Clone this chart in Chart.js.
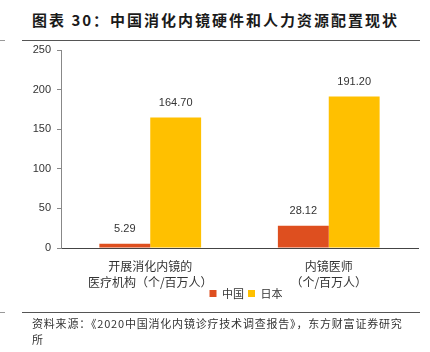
<!DOCTYPE html>
<html>
<head>
<meta charset="utf-8">
<script src="https://cdn.jsdelivr.net/npm/chart.js@4.4.0/dist/chart.umd.min.js"></script>
<style>
    body { margin: 0; background: #fff; }
    #wrap { position: relative; width: 430px; height: 352px; overflow: hidden; }
    #chart { position: absolute; left: 0; top: 0; }
    .title { position: absolute; left: 32px; top: 9px; font: bold 15px "Noto Sans CJK SC", sans-serif; letter-spacing: 2px; color: #1a1a1a; white-space: nowrap; }
    .rule { position: absolute; height: 1px; background: #555; }
    .source { position: absolute; left: 32px; top: 315px; font: 11px "Noto Sans CJK SC", sans-serif; letter-spacing: 0.8px; line-height: 16px; color: #333; white-space: nowrap; }
</style>
</head>
<body>
<div id="wrap">
    <div class="title">图表 30：中国消化内镜硬件和人力资源配置现状</div>
    <div class="rule" style="left:22px; top:40px; width:398px"></div>
    <div class="rule" style="left:0; top:40px; width:5px; background:#999"></div>
    <canvas id="chart" width="430" height="352"></canvas>
    <div class="rule" style="left:22px; top:312px; width:398px"></div>
    <div class="rule" style="left:0; top:312px; width:5px; background:#999"></div>
    <div class="source">资料来源：《2020中国消化内镜诊疗技术调查报告》，东方财富证券研究<br>所</div>
</div>
<script>
// données
const categories = [
    ["开展消化内镜的", "医疗机构（个/百万人）"],
    ["内镜医师", "（个/百万人）"],
]
const seriesNames = ["中国", "日本"]
const chinaValues = [5.29, 28.12]
const japanValues = [164.70, 191.20]
const yTicks = [0, 50, 100, 150, 200, 250]

const colors = { china: "#DE4F1F", japan: "#FFC000" }

// étiquettes de valeur au-dessus des barres
const valueLabels = {
    id: "valueLabels",
    afterDatasetsDraw(chart) {
        const ctx = chart.ctx
        ctx.save()
        ctx.font = "11px 'Liberation Sans', Arial, sans-serif"
        ctx.fillStyle = "#333"
        ctx.textAlign = "center"
        ctx.textBaseline = "middle"
        chart.data.datasets.forEach((ds, i) => {
            chart.getDatasetMeta(i).data.forEach((bar, j) => {
                ctx.fillText(ds.data[j].toFixed(2), bar.x, bar.y - 15)
            })
        })
        ctx.restore()
    },
}

// remonte la légende (et la décale à droite) sous la zone des étiquettes de l'axe x
const legendShift = {
    id: "legendShift",
    afterLayout(chart) {
        chart.legend.top -= 13
        chart.legend.bottom -= 13
        chart.legend.left += 37
        chart.legend.right += 37
    },
}

new Chart(document.getElementById("chart"), {
    type: "bar",
    data: {
        labels: categories,
        datasets: [
            { label: seriesNames[0], data: chinaValues, backgroundColor: colors.china },
            { label: seriesNames[1], data: japanValues, backgroundColor: colors.japan },
        ],
    },
    options: {
        responsive: false,
        animation: false,
        devicePixelRatio: 1,
        layout: { padding: { top: 50, right: 12, left: 0, bottom: 30 } },
        categoryPercentage: 0.57,
        barPercentage: 1,
        scales: {
            x: {
                grid: { display: false },
                border: { color: "#444", width: 1 },
                ticks: {
                    color: "#333",
                    padding: 2,
                    font: { family: "'Noto Sans CJK SC', sans-serif", size: 12, lineHeight: 1.35 },
                    maxRotation: 0,
                    autoSkip: false,
                },
                afterFit: (scale) => { scale.height = 49 },
            },
            y: {
                min: 0,
                max: 250,
                afterBuildTicks: (scale) => { scale.ticks = yTicks.map(v => ({ value: v })) },
                grid: { drawOnChartArea: false, tickLength: 4, color: "#888" },
                border: { color: "#888", width: 1 },
                ticks: {
                    color: "#333",
                    padding: 6,
                    font: { family: "'Liberation Sans', Arial, sans-serif", size: 11 },
                },
                afterFit: (scale) => { scale.width = 61 },
            },
        },
        plugins: {
            legend: {
                position: "bottom",
                labels: {
                    boxWidth: 7,
                    boxHeight: 7,
                    padding: 4,
                    color: "#333",
                    font: { family: "'Noto Sans CJK SC', sans-serif", size: 11 },
                },
            },
            tooltip: { enabled: false },
        },
    },
    plugins: [valueLabels, legendShift],
})
</script>
</body>
</html>
